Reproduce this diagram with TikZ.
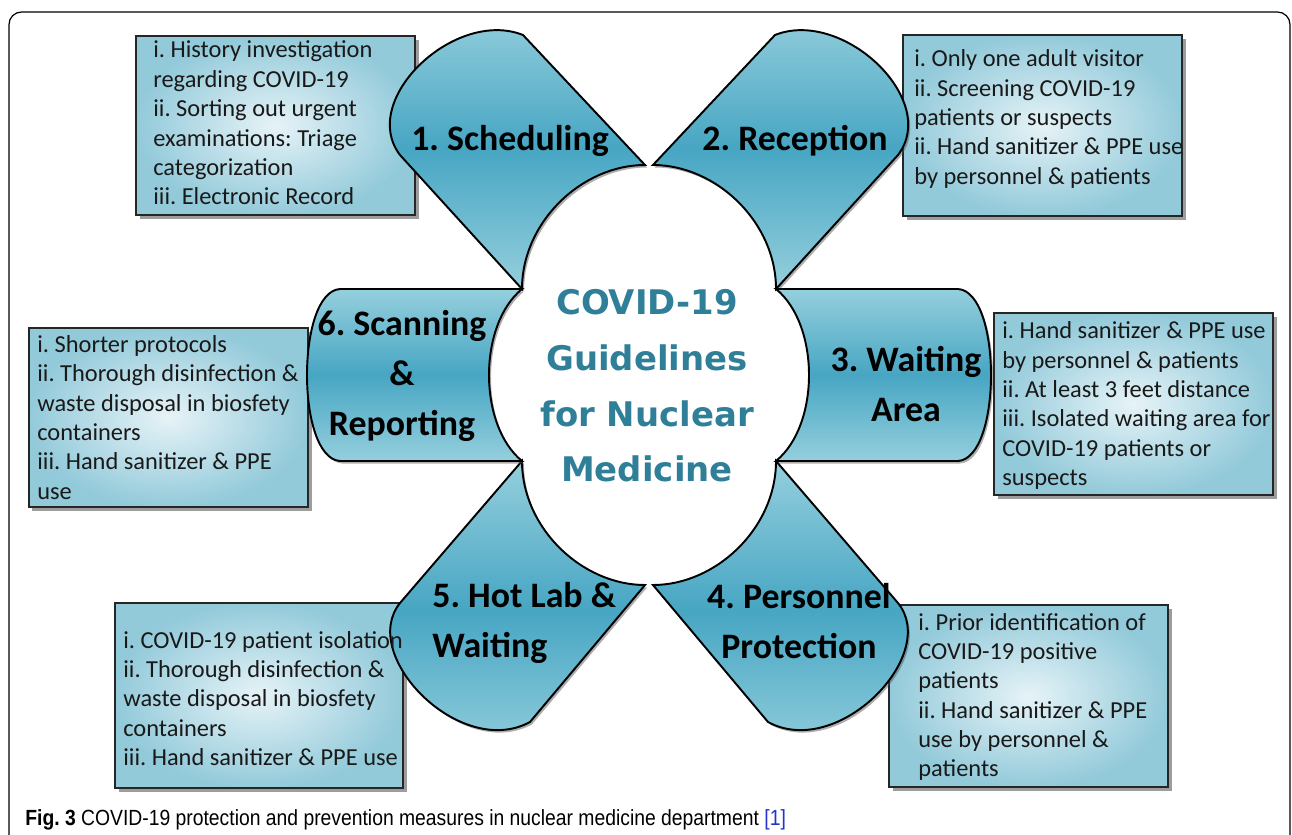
\documentclass[tikz,border=0pt]{standalone}
\usepackage{fontspec}
\setmainfont{Carlito}
\newfontfamily\titlefont{DejaVu Sans}
\newfontfamily\capfont{Liberation Sans}
\usetikzlibrary{fit,shadows}
\definecolor{petlight}{HTML}{95CFDD}
\definecolor{petdark}{HTML}{47A6C3}
\definecolor{boxin}{HTML}{E6F3F7}
\definecolor{boxout}{HTML}{93CADA}
\definecolor{titleteal}{HTML}{2E7F97}
\definecolor{refblue}{HTML}{2233CC}
\frenchspacing
\begin{document}
\frenchspacing
\begin{tikzpicture}[x=0.02cm,y=-0.02cm,
  infobox/.style={draw=black!85, line width=0.9pt, inner sep=0pt, inner color=boxin, outer color=boxout,
    drop shadow={shadow xshift=0.07cm, shadow yshift=-0.07cm, opacity=0.55, fill=black!70}},
  boxtext/.style={anchor=west, align=left, inner sep=0pt, font=\fontsize{13.9}{16.7}\selectfont, text=black!90},
  petal/.style={draw=black, line width=1.1pt, top color=petlight, bottom color=petlight, middle color=petdark,
    drop shadow={shadow xshift=0.04cm, shadow yshift=-0.05cm, opacity=0.45, fill=black!70}},
  petlabel/.style={font=\fontsize{20.4}{28.3}\selectfont\bfseries, align=center, inner sep=0pt, text=black},
]
\useasboundingbox (0,0) rectangle (1292,835);
\draw[line width=0.7pt, rounded corners=0.25cm] (9,12) rectangle (1290,870);

% info boxes
\node[infobox, fit={(136,36) (415,215)}] (b1) {};
\node[infobox, fit={(903,35) (1182,216)}] (b2) {};
\node[infobox, fit={(994,313) (1273,495)}] (b3) {};
\node[infobox, fit={(889,605) (1168,787)}] (b4) {};
\node[infobox, fit={(115,603) (403,788)}] (b5) {};
\node[infobox, fit={(29,328) (308,507)}] (b6) {};

% petals
\draw[petal] (645,165) -- (523,35) .. controls (455,8) and (358,100) .. (400,155) -- (522,289) .. controls (522,222) and (582,165) .. (645,165) -- cycle;
\draw[petal] (653,165) -- (775,35) .. controls (843,8) and (940,100) .. (898,155) -- (776,289) .. controls (776,222) and (716,165) .. (653,165) -- cycle;
\draw[petal] (776,289) -- (958,289) .. controls (1002,292) and (1002,458) .. (958,461) -- (776,461) .. controls (820,425) and (820,325) .. (776,289) -- cycle;
\draw[petal] (653,585) -- (768,722) .. controls (838,760) and (940,655) .. (898,603) -- (776,461) .. controls (776,528) and (716,585) .. (653,585) -- cycle;
\draw[petal] (645,585) -- (530,722) .. controls (460,760) and (358,655) .. (400,603) -- (522,461) .. controls (522,528) and (582,585) .. (645,585) -- cycle;
\draw[petal] (522,289) -- (340,289) .. controls (296,292) and (296,458) .. (340,461) -- (522,461) .. controls (478,425) and (478,325) .. (522,289) -- cycle;

% petal labels
\node[petlabel] (l1) at (510,141) {1. Scheduling};
\node[petlabel] (l2) at (795,141) {2. Reception};
\node[petlabel] (l3) at (906,384) {3. Waiting\\Area};
\node[petlabel] (l4) at (799,621) {4. Personnel\\Protection};
\node[petlabel, align=left, anchor=west] (l5) at (432,623) {5. Hot Lab \&\\Waiting};
\node[petlabel] (l6) at (402,376) {6. Scanning\\\&\\Reporting};

% centre title
\node[font=\titlefont\fontsize{19.3}{31.7}\selectfont\bfseries, text=titleteal, align=center, inner sep=0pt] (title) at (647,386) {COVID-19\\Guidelines\\for Nuclear\\Medicine};

% box texts
\node[boxtext] (t1) at (153,123) {i. History investigation\\regarding COVID-19\\ii. Sorting out urgent\\examinations: Triage\\categorization\\iii. Electronic Record};
\node[boxtext] (t2) at (914,119) {i. Only one adult visitor\\ii. Screening COVID-19\\patients or suspects\\ii. Hand sanitizer \& PPE use\\by personnel \& patients};
\node[boxtext] (t3) at (1002,405.5) {i. Hand sanitizer \& PPE use\\by personnel \& patients\\ii. At least 3 feet distance\\iii. Isolated waiting area for\\COVID-19 patients or\\suspects};
\node[boxtext] (t4) at (918,697) {i. Prior identification of\\COVID-19 positive\\patients\\ii. Hand sanitizer \& PPE\\use by personnel \&\\patients};
\node[boxtext] (t5) at (123,698.5) {i. COVID-19 patient isolation\\ii. Thorough disinfection \&\\waste disposal in biosfety\\containers\\iii. Hand sanitizer \& PPE use};
\node[boxtext] (t6) at (37,417.5) {i. Shorter protocols\\ii. Thorough disinfection \&\\waste disposal in biosfety\\containers\\iii. Hand sanitizer \& PPE\\use};

% caption
\node[anchor=west, inner sep=0pt, font=\capfont\fontsize{12.5}{14}\selectfont] (cap) at (25,820) {\scalebox{0.88}[1]{\textbf{Fig. 3} COVID-19 protection and prevention measures in nuclear medicine department \textcolor{refblue}{[1]}}};
\end{tikzpicture}
\end{document}
